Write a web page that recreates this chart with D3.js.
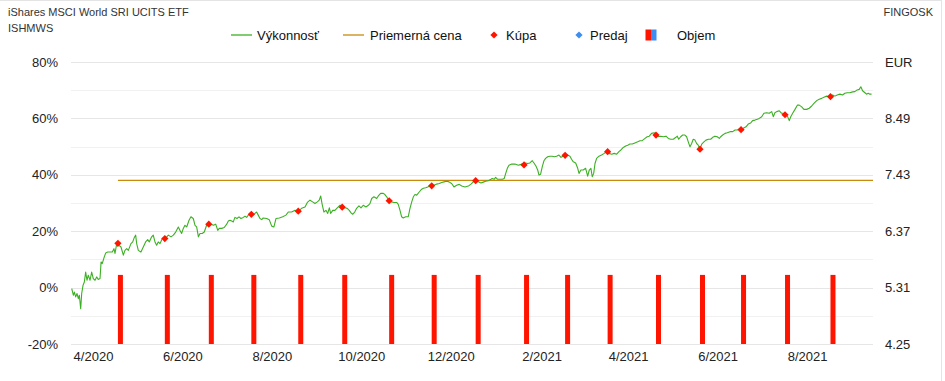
<!DOCTYPE html>
<html><head><meta charset="utf-8">
<script src="https://cdn.jsdelivr.net/npm/d3@7"></script>
<style>
html,body{margin:0;padding:0;background:#fff;}
svg{display:block;font-family:"Liberation Sans",Arial,Helvetica,sans-serif;}
</style></head>
<body><svg id="chart" width="945" height="381"></svg>
<script>
// ---- DATA ----
const titleText = "iShares MSCI World SRI UCITS ETF";
const tickerText = "ISHMWS";
const brandText = "FINGOSK";
const startDate = "2020-03-17";
const endDate = "2021-09-15";
const xTickLabels = ["4/2020","6/2020","8/2020","10/2020","12/2020","2/2021","4/2021","6/2021","8/2021"];
const xTickDates = ["2020-04-01","2020-06-01","2020-08-01","2020-10-01","2020-12-01","2021-02-01","2021-04-01","2021-06-01","2021-08-01"];
const pctTicks = [-20,0,20,40,60,80];
const eurTickLabels = ["4.25","5.31","6.37","7.43","8.49","EUR"];
// performance line: days after startDate, performance in %
const perfDays = [0.5,1.6,2.3,3.2,4.1,5.0,5.7,6.6,7.3,8.2,9.1,10.0,10.9,11.8,13.0,14.1,15.2,16.4,17.5,18.6,19.8,20.5,21.3,22.7,23.7,25.0,26.6,28.2,29.3,30.0,31.2,32.7,34.1,35.7,36.8,38.0,39.1,40.9,42.1,43.2,44.1,44.8,45.9,47.7,49.3,50.9,52.3,53.4,55.0,56.1,57.3,58.4,59.5,60.7,62.3,63.6,65.3,66.4,68.2,69.8,71.4,73.2,74.3,75.5,76.6,77.7,78.9,80.5,81.8,83.4,84.6,85.7,86.9,88.0,89.5,90.9,92.5,93.6,95.5,97.1,98.7,100.1,101.1,102.8,104.5,106.2,107.3,108.4,109.6,110.7,111.8,113.2,114.6,115.9,117.5,118.7,119.8,121.4,122.8,124.3,125.5,126.6,127.7,128.9,130.1,131.1,133.5,135.2,136.9,138.4,139.8,142.1,144.4,146.6,148.2,150.5,152.8,155.0,157.3,159.6,161.2,163.0,164.8,166.4,168.0,169.3,170.3,171.2,172.5,173.9,175.1,176.2,177.1,178.5,180.0,181.6,183.5,185.0,186.9,188.4,189.8,191.0,192.1,193.5,194.8,196.4,197.8,199.3,201.2,202.8,203.9,205.1,206.6,208.5,209.6,211.2,213.0,214.1,215.3,216.9,218.7,220.3,222.1,223.2,224.4,225.5,226.6,228.3,230.0,231.2,232.4,233.5,234.6,235.8,237.5,239.2,240.3,241.9,243.3,244.8,246.0,247.6,249.4,251.2,252.8,254.4,256.2,257.8,259.6,261.2,263.0,264.8,266.5,268.7,271.0,272.8,274.4,276.0,277.8,279.6,281.2,282.8,284.6,286.4,287.3,288.7,289.6,291.0,292.6,294.2,295.5,296.5,297.6,298.7,300.6,302.8,305.1,306.9,308.5,310.1,311.5,313.0,314.6,316.0,317.1,318.3,319.2,320.3,321.4,322.6,323.7,325.1,326.7,328.2,329.6,331.2,332.8,334.2,335.7,336.9,338.7,340.3,341.4,342.6,344.2,345.6,346.5,347.8,349.4,351.0,352.4,353.5,354.6,355.5,356.5,357.4,358.5,360.1,361.9,363.7,365.4,366.9,368.8,370.5,372.2,373.7,375.1,376.7,378.3,379.7,381.2,382.8,384.6,386.5,388.1,389.6,391.5,393.0,394.4,396.0,397.8,399.1,400.6,402.2,404.0,405.8,407.4,409.0,410.8,412.6,413.5,414.5,415.8,417.2,418.7,419.9,421.0,422.2,423.3,424.4,425.6,426.7,427.8,429.0,430.2,431.7,433.1,434.7,436.3,437.7,439.2,440.8,442.2,443.1,444.5,446.1,447.6,449.5,451.3,452.9,454.5,455.8,457.0,458.5,460.4,461.9,463.6,464.9,466.5,468.1,469.4,471.1,472.6,474.5,476.2,477.9,479.0,480.1,481.3,483.1,484.7,485.8,487.0,488.6,489.9,490.9,492.2,493.8,495.4,496.7,498.4,499.9,501.8,503.5,505.2,506.7,508.6,510.3,512.0,513.5,515.4,517.6,519.5,521.0,522.6,524.4,526.3,527.8,529.4,531.2,533.1,534.6,536.2,537.6,538.7,539.9,541.5,542.6,543.7,544.8,546.0];
const perfValues = [-0.4,-2.7,-1.6,-3.3,-2.1,-3.9,-2.7,-7.5,-2.1,0.8,2.0,5.5,2.6,4.4,2.6,5.5,3.2,2.6,3.8,2.9,3.2,9.1,8.5,10.9,12.3,12.6,12.6,12.6,13.8,12.1,15.6,15.0,14.4,11.5,13.2,13.8,13.2,15.6,16.2,17.8,18.6,15.6,13.2,12.6,14.4,16.2,17.0,16.2,18.0,18.6,16.2,15.0,16.2,15.6,17.4,17.4,18.0,18.6,18.0,18.6,19.7,21.5,20.3,19.2,21.0,22.1,21.5,23.9,25.1,24.5,22.1,21.5,18.0,19.2,19.2,19.7,22.1,22.5,22.5,22.1,22.5,20.3,21.0,21.0,21.3,22.5,23.6,23.9,23.6,23.3,24.9,24.5,25.1,24.5,24.9,25.3,24.9,26.0,26.0,25.7,26.3,26.8,25.7,24.5,24.1,24.7,24.5,24.1,21.8,21.5,24.5,24.7,25.1,25.7,26.8,26.8,27.4,27.1,28.1,28.6,30.2,31.0,30.4,29.8,30.4,31.0,32.5,29.8,26.8,27.4,26.3,28.3,26.3,27.4,27.4,28.3,29.2,29.0,28.3,28.1,27.4,26.5,26.0,26.8,28.1,29.0,28.3,29.2,28.6,29.2,29.8,31.6,32.2,31.6,32.5,33.4,33.4,33.0,32.2,30.8,30.4,30.2,30.2,29.5,27.4,25.1,24.7,25.1,25.1,28.1,30.4,32.2,33.0,32.8,33.9,34.9,35.2,35.4,35.7,36.1,36.1,36.3,36.7,36.9,37.3,37.5,37.7,37.5,36.9,35.7,36.3,36.6,36.0,35.7,36.0,36.7,37.5,37.9,37.5,37.1,37.4,37.7,37.9,38.4,38.7,38.4,39.1,38.4,38.4,38.4,38.7,40.5,42.3,43.4,43.8,43.8,43.4,43.7,44.0,44.2,44.0,44.2,45.0,44.0,43.1,41.7,39.9,40.2,42.8,45.0,45.8,46.4,46.6,46.6,46.4,46.6,47.0,46.2,46.6,47.1,47.0,46.6,45.5,44.6,44.2,42.3,40.5,41.7,41.7,42.3,39.5,41.7,42.3,39.3,40.5,44.0,45.8,46.6,47.0,47.6,48.2,47.6,47.3,47.6,47.3,48.2,48.8,49.7,50.2,50.5,50.9,50.9,51.3,51.7,52.1,52.1,52.9,53.5,53.7,54.7,54.9,54.1,53.5,53.7,53.5,53.7,52.9,52.6,52.6,53.3,53.7,52.6,53.5,54.1,54.1,53.5,51.7,49.9,51.1,52.6,52.3,51.1,50.5,49.1,50.9,51.7,52.3,52.6,52.6,53.3,53.7,53.5,52.9,53.5,54.1,54.7,54.9,55.3,55.3,55.9,55.9,56.2,56.1,56.5,57.0,58.0,58.4,59.2,59.4,59.7,60.0,60.6,61.8,62.0,61.8,62.4,60.6,62.0,62.4,62.7,61.8,61.8,61.3,60.8,59.2,60.6,61.8,63.2,64.7,64.7,64.1,63.2,63.2,63.6,64.4,65.3,66.3,66.8,67.1,67.5,67.9,67.7,68.3,67.9,68.3,68.6,68.3,68.9,69.1,69.1,69.4,69.5,70.1,70.3,71.2,69.8,69.1,68.6,68.9,68.6,68.6];
// purchases (Kúpa)
const buyDates = ["2020-04-18","2020-05-20","2020-06-19","2020-07-18","2020-08-19","2020-09-18","2020-10-20","2020-11-18","2020-12-18","2021-01-20","2021-02-17","2021-03-18","2021-04-20","2021-05-20","2021-06-17","2021-07-17","2021-08-17"];
const buyValues = [15.7,17.4,22.5,26.0,27.1,28.5,30.8,36.1,37.9,43.5,46.9,48.2,54.1,49.1,56.0,61.3,67.7];
const buyVolumes = [100,100,100,100,100,100,100,100,100,100,100,100,100,100,100,100,100];
// sales (Predaj): none
const sellDates = [];
const sellValues = [];
const averagePricePct = 38.0;
const legendLabels = ["Výkonnosť","Priemerná cena","Kúpa","Predaj","Objem"];

// ---- CHART ----
const svg = d3.select("#chart");
const W = 945, H = 381;
const m = {left:71, right:72, top:62, bottom:37};
const x0 = m.left, x1 = W - m.right, yTop = m.top, yBot = H - m.bottom;
const parse = d3.utcParse("%Y-%m-%d");
const start = parse(startDate);
const dayMs = 86400000;

const x = d3.scaleUtc().domain([start, parse(endDate)]).range([x0, x1]);
const y = d3.scaleLinear().domain([-20, 80]).range([yBot, yTop]);
const yVol = d3.scaleLinear().domain([0, d3.max(buyVolumes) / 0.245]).range([yBot, yTop]);

const colGreen = "#3cb024", colOrange = "#c98a0c", colRed = "#ff1400", colBlue = "#3d8ef0";

// border
svg.append("line").attr("x1",0).attr("x2",942).attr("y1",0.5).attr("y2",0.5).attr("stroke","#e4e4e4");
svg.append("line").attr("x1",941.5).attr("x2",941.5).attr("y1",0).attr("y2",H).attr("stroke","#e4e4e4");

// gridlines
const grid = svg.append("g");
d3.range(-20, 81, 10).forEach(v => {
  grid.append("line").attr("x1", x0).attr("x2", x1)
    .attr("y1", Math.round(y(v)) + 0.5).attr("y2", Math.round(y(v)) + 0.5)
    .attr("stroke", v % 20 === 0 ? "#e6e6e6" : "#f1f1f1").attr("stroke-width", 1);
});

// left axis
const yAxisL = d3.axisLeft(y).tickValues(pctTicks).tickFormat(d => d + "%").tickSize(0).tickPadding(0);
const gL = svg.append("g").attr("transform", `translate(${x0 - 13},0)`).call(yAxisL);
gL.select(".domain").remove();
gL.selectAll("text").attr("font-size", 13).attr("fill", "#222").attr("font-family", '"Liberation Sans",Arial,sans-serif');

// right axis
const yAxisR = d3.axisRight(y).tickValues(pctTicks).tickFormat((d, i) => eurTickLabels[i]).tickSize(0).tickPadding(0);
const gR = svg.append("g").attr("transform", `translate(${x1 + 12},0)`).call(yAxisR);
gR.select(".domain").remove();
gR.selectAll("text").attr("font-size", 13).attr("fill", "#222").attr("font-family", '"Liberation Sans",Arial,sans-serif');

// bottom axis
const xAxis = d3.axisBottom(x).tickValues(xTickDates.map(parse)).tickFormat((d, i) => xTickLabels[i]).tickSize(0).tickPadding(0);
const gB = svg.append("g").attr("transform", `translate(0,${yBot + 8})`).call(xAxis);
gB.select(".domain").remove();
gB.selectAll("text").attr("font-size", 13).attr("fill", "#222").attr("font-family", '"Liberation Sans",Arial,sans-serif');

// volume bars
svg.append("g").selectAll("rect").data(buyDates.map((d, i) => ({date: parse(d), v: buyVolumes[i]})))
  .join("rect")
  .attr("x", d => x(d.date)).attr("width", 5)
  .attr("y", d => yVol(d.v)).attr("height", d => yBot - yVol(d.v))
  .attr("fill", colRed);

// average price line
svg.append("line")
  .attr("x1", x(parse(buyDates[0]))).attr("x2", x1)
  .attr("y1", y(averagePricePct)).attr("y2", y(averagePricePct))
  .attr("stroke", colOrange).attr("stroke-width", 1.3);

// performance line
const perf = perfDays.map((d, i) => ({date: new Date(start.getTime() + d * dayMs), v: perfValues[i]}));
svg.append("path").datum(perf)
  .attr("fill", "none").attr("stroke", colGreen).attr("stroke-width", 1.1).attr("stroke-linejoin", "round")
  .attr("d", d3.line().x(d => x(d.date)).y(d => y(d.v)));

// buy markers
const diamond = d3.symbol().type(d3.symbolSquare).size(26);
svg.append("g").selectAll("path").data(buyDates.map((d, i) => ({date: parse(d), v: buyValues[i]})))
  .join("path")
  .attr("d", diamond)
  .attr("transform", d => `translate(${x(d.date)},${y(d.v)}) rotate(45)`)
  .attr("fill", colRed);
svg.append("g").selectAll("path").data(sellDates.map((d, i) => ({date: parse(d), v: sellValues[i]})))
  .join("path")
  .attr("d", diamond)
  .attr("transform", d => `translate(${x(d.date)},${y(d.v)}) rotate(45)`)
  .attr("fill", colBlue);

// titles
svg.append("text").attr("x", 8).attr("y", 16).attr("font-size", 11).attr("fill", "#333").text(titleText);
svg.append("text").attr("x", 8).attr("y", 32).attr("font-size", 11).attr("fill", "#333").text(tickerText);
svg.append("text").attr("x", 933).attr("y", 16).attr("text-anchor", "end").attr("font-size", 11).attr("fill", "#333").text(brandText);

// legend
const ly = 35;
const lg = svg.append("g").attr("font-size", 13).attr("fill", "#111");
lg.append("line").attr("x1", 231).attr("x2", 252).attr("y1", ly).attr("y2", ly).attr("stroke", colGreen).attr("stroke-width", 1.3);
lg.append("text").attr("x", 257).attr("y", ly + 4.5).text(legendLabels[0]);
lg.append("line").attr("x1", 343).attr("x2", 364).attr("y1", ly).attr("y2", ly).attr("stroke", colOrange).attr("stroke-width", 1.3);
lg.append("text").attr("x", 370).attr("y", ly + 4.5).text(legendLabels[1]);
lg.append("path").attr("d", diamond).attr("transform", `translate(494,${ly}) rotate(45)`).attr("fill", colRed);
lg.append("text").attr("x", 506).attr("y", ly + 4.5).text(legendLabels[2]);
lg.append("path").attr("d", diamond).attr("transform", `translate(579,${ly}) rotate(45)`).attr("fill", colBlue);
lg.append("text").attr("x", 590).attr("y", ly + 4.5).text(legendLabels[3]);
lg.append("rect").attr("x", 645.5).attr("y", ly - 5.5).attr("width", 5.5).attr("height", 11).attr("fill", colRed);
lg.append("rect").attr("x", 651).attr("y", ly - 5.5).attr("width", 5.5).attr("height", 11).attr("fill", colBlue);
lg.append("text").attr("x", 677).attr("y", ly + 4.5).text(legendLabels[4]);
</script>
</body></html>
